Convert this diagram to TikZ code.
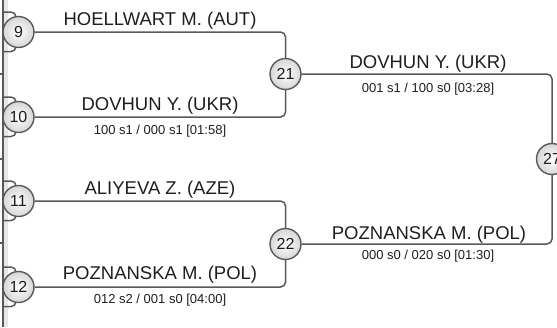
\documentclass[tikz,border=0pt]{standalone}
\usepackage{fontspec}
\setmainfont{Liberation Sans}
\usetikzlibrary{backgrounds}
\definecolor{linec}{HTML}{595959}
\definecolor{bandc}{HTML}{E6E6E6}
\definecolor{txtc}{HTML}{1E1E1E}
\begin{document}
\begin{tikzpicture}[x=1pt,y=-1pt,
  conn/.style={draw=linec,line width=1.5pt,rounded corners=5pt},
  matchc/.style={circle,minimum size=31pt,inner sep=0pt,draw=linec,line width=1.4pt,
     inner color=white,outer color=black!16,text=txtc,font=\fontsize{16}{16}\selectfont},
  pname/.style={anchor=base,text=txtc,font=\fontsize{18.5}{19}\selectfont,inner sep=0pt},
  score/.style={anchor=base,text=txtc,font=\fontsize{13}{13}\selectfont,inner sep=0pt}]
\useasboundingbox (0,0) rectangle (557,327);
\clip (0,0) rectangle (557,327);
% circles
\node[matchc] (c9)  at (18.5,32) {9};
\node[matchc] (c10) at (18.5,117) {10};
\node[matchc] (c11) at (18.5,201) {11};
\node[matchc] (c12) at (18.5,287) {12};
\node[matchc] (c21) at (285.5,74) {21};
\node[matchc] (c22) at (285.5,244) {22};
\node[matchc] (c27) at (552,159) {27};
\begin{scope}[on background layer]
% left band and line
\fill[bandc] (4,0) rectangle (8,327);
\draw[linec,line width=1.5pt] (3,0) -- (3,327);
\foreach \y in {74,159,243} \draw[linec,line width=1.2pt] (0,\y) -- (3,\y);
% small bracket stubs at first-round circles
\foreach \c in {c9,c10,c11,c12}{
  \draw[conn] ([yshift=20pt]\c.center -| 3,0) -- ([yshift=20pt]\c.center -| 16,0) -- ([xshift=-2.5pt]\c.center);
  \draw[conn] ([yshift=-19.5pt]\c.center -| 3,0) -- ([yshift=-19.5pt]\c.center -| 16,0) -- ([xshift=-2.5pt]\c.center);
}
% connectors
\draw[conn] (c9) -| (c21);
\draw[conn] (c10) -| (c21);
\draw[conn] (c11) -| (c22);
\draw[conn] (c12) -| (c22);
\draw[conn] (c21) -| (c27);
\draw[conn] (c22) -| (c27);
\end{scope}
% labels
\node[pname] (n1) at (160,25) {HOELLWART M. (AUT)};
\node[pname] (n2) at (160,110) {DOVHUN Y. (UKR)};
\node[score] (s2) at (160,134) {100 s1 / 000 s1 [01:58]};
\node[pname] (n3) at (160,194) {ALIYEVA Z. (AZE)};
\node[pname] (n4) at (160,279) {POZNANSKA M. (POL)};
\node[score] (s4) at (160,303) {012 s2 / 001 s0 [04:00]};
\node[pname] (n5) at (428,68) {DOVHUN Y. (UKR)};
\node[score] (s5) at (428,92) {001 s1 / 100 s0 [03:28]};
\node[pname] (n6) at (429,239) {POZNANSKA M. (POL)};
\node[score] (s6) at (428,259) {000 s0 / 020 s0 [01:30]};
\end{tikzpicture}
\end{document}
